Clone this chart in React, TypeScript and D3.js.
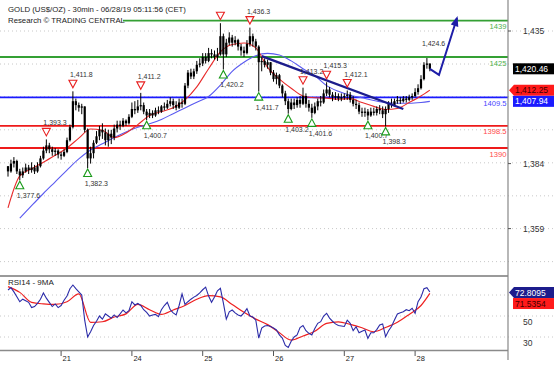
import React from "react";
import * as d3 from "d3";

const W = 554;
const H = 365;

// ---------- DATA ----------
const titleText = "GOLD (US$/OZ) - 30min - 06/28/19 05:11:56 (CET)";
const subTitle = "Research © TRADING CENTRAL";

const firstOpen = 1383;
const closes = [
  1381, 1384, 1385, 1381, 1379.5, 1381, 1382.5, 1381.5, 1382.5, 1381, 1383, 1386, 1389, 1391, 1389.5, 1388.5, 1389, 1387.5, 1387, 1388.5,
  1393, 1398, 1408, 1406.5, 1405.5, 1406, 1397, 1386, 1388, 1392, 1394.5, 1397, 1396, 1393, 1395.5, 1394, 1397.5, 1399, 1398.5, 1400.5,
  1399.5, 1402, 1405, 1404.5, 1406, 1406.5, 1404, 1402.5, 1403.5, 1402.5, 1404.5, 1404, 1406, 1405.5, 1407, 1408, 1406.5, 1405.5, 1407.5, 1407,
  1414, 1419, 1417.5, 1419.5, 1422, 1422.5, 1425, 1423.5, 1426.5, 1426, 1425, 1426, 1433, 1426, 1430.5, 1432.5, 1430.5, 1431.5, 1429, 1427.5,
  1426.5, 1430, 1433, 1431, 1429, 1423, 1423.5, 1422, 1423, 1419, 1416.5, 1418, 1414, 1411, 1408, 1405, 1407.5, 1406.5, 1408.5, 1407,
  1410, 1407, 1405.5, 1403.5, 1406, 1408, 1407.5, 1411, 1412.5, 1410.5, 1409.5, 1410, 1409, 1409.5, 1410, 1410.5, 1408.5, 1407, 1406.5, 1404,
  1403.5, 1404, 1402.5, 1404, 1403.5, 1405, 1404.5, 1403, 1405, 1407, 1406.5, 1408, 1408.5, 1408, 1409, 1408.5, 1409.5, 1410, 1411.5, 1413,
  1416.5, 1422, 1422.5, 1420.46,
];
const highs = [
  1383, 1385.5, 1386.5, 1385.5, 1382, 1382.5, 1384, 1383.5, 1384.5, 1383.5, 1384.5, 1387, 1390.5, 1393.3, 1392, 1390.5, 1390, 1389.5, 1388.5, 1389.5,
  1394, 1399, 1411.8, 1409, 1407.5, 1407, 1406, 1397.5, 1390.5, 1393, 1396.5, 1398.5, 1399.5, 1397.5, 1397, 1397, 1399, 1400.5, 1400.5, 1401.5,
  1401, 1403, 1407.5, 1408, 1408.5, 1411.2, 1407.5, 1405, 1405, 1404.5, 1405.5, 1406, 1406.5, 1407.5, 1408.5, 1409.5, 1409, 1408, 1409, 1409,
  1415, 1420, 1420.5, 1420.5, 1423.5, 1424.5, 1426.5, 1426.5, 1428.5, 1428, 1427.5, 1428.5, 1438, 1434, 1432, 1434.5, 1433.5, 1433, 1432, 1430,
  1429, 1431.5, 1436.3, 1434, 1432, 1429.5, 1425, 1424.5, 1424, 1423, 1420, 1419, 1418.5, 1414.5, 1412, 1409, 1409, 1409, 1409.5, 1410,
  1413.2, 1411, 1408.5, 1407, 1407.5, 1409, 1410, 1412.5, 1415.3, 1413.5, 1411.5, 1411.5, 1411, 1411, 1411, 1412.1, 1411.5, 1410, 1408.5, 1407.5,
  1405.5, 1405.5, 1405, 1405.5, 1405.5, 1406, 1406.5, 1406, 1406, 1408, 1409, 1409, 1410, 1409.5, 1410, 1410, 1410.5, 1411, 1413, 1414.5,
  1418, 1423, 1424.6, 1422.5,
];
const lows = [
  1379, 1380.5, 1382.5, 1380, 1377.6, 1378.5, 1380.5, 1380, 1380.5, 1380, 1380.5, 1382.5, 1385.5, 1388, 1388, 1387, 1387, 1386, 1385.5, 1386.5,
  1388, 1392.5, 1397.5, 1404.5, 1404, 1403, 1396, 1382.3, 1384, 1386, 1391.5, 1393, 1393.5, 1391, 1390.5, 1391.5, 1393, 1396, 1397, 1398,
  1398.5, 1399, 1401.5, 1403, 1403.5, 1404.5, 1403, 1400.7, 1401.5, 1401.5, 1402, 1403, 1403.5, 1404.5, 1405, 1406, 1405, 1404.5, 1405, 1405.5,
  1406.5, 1413, 1416.5, 1416.5, 1418.5, 1421, 1421.5, 1422.5, 1423, 1424.5, 1424, 1423.5, 1425.5, 1420.2, 1425, 1429.5, 1429, 1429.5, 1427.5, 1425.5,
  1425, 1426, 1429, 1429, 1427.5, 1411.7, 1419.5, 1421, 1420.5, 1418, 1415.5, 1414.5, 1413, 1409.5, 1406.5, 1403.2, 1404.5, 1405, 1405.5, 1405.5,
  1406.5, 1405.5, 1404, 1401.6, 1403, 1404.5, 1406, 1407, 1410, 1409.5, 1408, 1408.5, 1408, 1408, 1408.5, 1408.5, 1407.5, 1406, 1405, 1403,
  1402, 1402, 1400.7, 1402, 1402.5, 1402.5, 1403, 1401.5, 1398.3, 1403.5, 1405.5, 1406, 1407, 1407, 1407.5, 1407.5, 1408, 1408.5, 1409.5, 1410.5,
  1412.5, 1416, 1420.5, 1419.5,
];

const rsi = [
  74.8, 77, 73, 68.4, 63.6, 66, 64.5, 63, 58, 59, 62, 66, 72, 67, 63, 59, 61.5, 58, 60, 65,
  69, 76, 79.5, 76, 73, 70, 46, 30, 35, 41, 45, 50, 47, 52, 50, 48, 51, 48.5, 52, 55.7,
  53, 55, 63.6, 60.5, 62, 60, 56, 53.5, 50, 51, 51.5, 49.4, 56, 60, 63, 56, 53, 51, 60, 71,
  61, 63.6, 66, 68, 69.5, 72, 75, 77.5, 69, 63, 68, 74, 76.4, 62.4, 47, 54, 55.7, 53, 51, 50,
  53, 57, 50, 49, 46, 29, 38.5, 40.5, 41, 40, 38.5, 36.7, 32, 29, 22, 20, 26, 30, 32, 39,
  41, 36, 33.5, 31.9, 38, 43, 44.6, 50, 52.6, 48, 45, 42.5, 41, 40.5, 40, 46, 43, 36, 39.8, 34,
  35.5, 36.7, 28.7, 34, 34, 37, 41.4, 42.5, 30.3, 36, 40, 46.2, 52, 53, 54, 56, 55, 57.3, 52.6, 63.6,
  68, 76, 77, 72.81,
];

const maIdx = [0, 4, 8, 12, 16, 20, 24, 28, 32, 36, 40, 44, 48, 52, 56, 60, 64, 68, 72, 76, 80, 84, 88, 92, 96, 100, 104, 108, 112, 116, 120, 124, 128, 132, 136, 140, 143];
const maRed = [
  1367, 1379.3, 1382, 1384.5, 1387.2, 1390, 1393.8, 1397.3, 1396.8, 1394, 1395.8, 1399, 1402.5, 1404, 1405.5, 1408.5, 1413.5, 1420.5, 1427, 1429.8,
  1430.4, 1428.5, 1421, 1416.5, 1413, 1410, 1409.3, 1409.2, 1408.8, 1409, 1407.5, 1406, 1404.8, 1405.2, 1407.5, 1410, 1412.25,
];
const maBlue = [
  null, 1363, 1367.8, 1372.5, 1377, 1381.5, 1385.8, 1389.2, 1391.6, 1394, 1396.2, 1398, 1399.3, 1401, 1403.2, 1405.4, 1407.6, 1409.8, 1414.2, 1419.5,
  1423, 1425.5, 1426.4, 1425.8, 1423.5, 1420.5, 1417.8, 1414, 1411.8, 1410.3, 1409.3, 1408.3, 1407.5, 1407.2, 1407.2, 1407.5, 1407.94,
];
const rsiMa = [
  78, 72.5, 63, 61.5, 61, 63.5, 71, 44, 44.5, 49, 52, 61, 56, 51.5, 55.7, 60, 66, 69.5, 68.2, 61,
  53.5, 47, 41.8, 34, 27, 31, 35.5, 43, 44.5, 42, 38.8, 35, 39, 44, 51.5, 60, 71.54,
];

const levelValues = [1439, 1425, 1409.5, 1398.5, 1390];
const levelLabels = ["1439", "1425", "1409.5", "1398.5", "1390"];
const levelKinds = ["res", "res", "pivot", "sup", "sup"];

const peakIdx = [13, 22, 45, 72, 82, 100, 108, 115];
const peakLabels = ["1,393.3", "1,411.8", "1,411.2", "", "1,436.3", "1,413.2", "1,415.3", "1,412.1"];
const troughIdx = [4, 27, 47, 73, 85, 95, 103, 122, 128];
const troughLabels = ["1,377.6", "1,382.3", "1,400.7", "1,420.2", "1,411.7", "1,403.2", "1,401.6", "1,400.7", "1,398.3"];
const lastHighLabel = "1,424.6";

const trendIdx = [86, 134];
const trendVals = [1425.3, 1405];
const fcIdx = [143, 146.1, 152.2];
const fcVals = [1420.46, 1418.1, 1440];

const priceTicks = [1435, 1384, 1359];
const priceTickLabels = ["1,435", "1,384", "1,359"];
const priceGrid = [1435, 1422.3, 1409.7, 1397, 1384.3, 1371.6, 1359, 1346.3];
const rsiTicks = [50, 30];
const rsiGrid = [70, 50, 30];
const dayIdx = [18, 42, 66, 90, 114, 138];
const dayLabels = ["21", "24", "25", "26", "27", "28"];

const lastClose = 1420.46;
const lastRed = 1412.25;
const lastBlue = 1407.94;
const lastRsi = 72.8095;
const lastRsiMa = 71.5354;

// ---------- STYLE ----------
const FONT = "'Liberation Sans', Arial, sans-serif";
const GREEN = "#34a034";
const BLUE = "#1a1aff";
const RED = "#ee1a1a";
const NAVY = "#1c1c8c";
const AXIS_X = 508;

export default function App() {
  const x = d3.scaleLinear().domain([0, 143]).range([8, 8 + 143 * 2.95]);
  const y = d3.scaleLinear().domain([1359, 1435]).range([228.6, 31]);
  const yr = d3.scaleLinear().domain([30, 50]).range([337, 316]);

  const kindColor = (k: string) => (k === "res" ? GREEN : k === "pivot" ? BLUE : RED);
  const kindText = (k: string) => (k === "res" ? "#4cb04c" : k === "pivot" ? "#4646ff" : "#ff4a4a");

  const lineP = d3
    .line<[number, number | null]>()
    .defined((d) => d[1] != null)
    .x((d) => x(d[0]))
    .y((d) => y(d[1] as number))
    .curve(d3.curveMonotoneX);
  const lineR = d3
    .line<[number, number]>()
    .x((d) => x(d[0]))
    .y((d) => yr(d[1]))
    .curve(d3.curveMonotoneX);
  const lineRsi = d3
    .line<number>()
    .x((_, i) => x(i))
    .y((d) => yr(d));

  const redPath = lineP(maIdx.map((i, k) => [i, maRed[k]]));
  const bluePath = lineP(maIdx.map((i, k) => [i, maBlue[k]]));
  const rsiMaPath = lineR(maIdx.map((i, k) => [i, rsiMa[k]]));
  const rsiPath = lineRsi(rsi);

  // forecast arrow
  const fcPts = fcIdx.map((i, k) => [x(i), y(fcVals[k])]);
  const fcPath = d3.line()(fcPts as [number, number][]);
  const [ax, ay] = fcPts[fcPts.length - 1];
  const [bx, by] = fcPts[fcPts.length - 2];
  const ang = Math.atan2(ay - by, ax - bx);
  const ah = 9;
  const arrowHead = [
    [ax + 2 * Math.cos(ang), ay + 2 * Math.sin(ang)],
    [ax - ah * Math.cos(ang - 0.45), ay - ah * Math.sin(ang - 0.45)],
    [ax - ah * Math.cos(ang + 0.45), ay - ah * Math.sin(ang + 0.45)],
  ]
    .map((p) => p.join(","))
    .join(" ");

  const tri = (cx: number, cy: number, down: boolean) => {
    const s = 4;
    return down
      ? `${cx - s},${cy - s + 0.5} ${cx + s},${cy - s + 0.5} ${cx},${cy + s}`
      : `${cx - s},${cy + s - 0.5} ${cx + s},${cy + s - 0.5} ${cx},${cy - s}`;
  };

  const valueBox = (v: number, text: string, bg: string, fg: string, arrow: boolean, yy: number) => (
    <g key={text}>
      {arrow ? (
        <polygon points={`${AXIS_X + 1},${yy} ${AXIS_X + 6},${yy - 5.5} ${W},${yy - 5.5} ${W},${yy + 5.5} ${AXIS_X + 6},${yy + 5.5}`} fill={bg} />
      ) : (
        <rect x={AXIS_X + 5} y={yy - 5.5} width={W - AXIS_X - 5} height={11} fill={bg} />
      )}
      <text x={AXIS_X + 7} y={yy + 3} fontSize={8.5} fill={fg} fontFamily={FONT}>
        {text}
      </text>
    </g>
  );

  return (
    <svg width={W} height={H} style={{ position: "absolute", left: 0, top: 0, background: "#fff" }}>
      <rect x={0} y={0} width={W} height={H} fill="#fff" />
      {/* grid */}
      {priceGrid.map((g) => (
        <line key={"pg" + g} x1={0} x2={W} y1={y(g)} y2={y(g)} stroke="#c8c8c8" strokeDasharray="1,3" />
      ))}
      {rsiGrid.map((g) => (
        <line key={"rg" + g} x1={0} x2={W} y1={yr(g)} y2={yr(g)} stroke="#c8c8c8" strokeDasharray="1,3" />
      ))}

      {/* title */}
      <text x={8} y={11.5} fontSize={7.8} fill="#222" fontFamily={FONT}>
        {titleText}
      </text>
      <text x={8} y={22.5} fontSize={7.8} fill="#222" fontFamily={FONT}>
        {subTitle}
      </text>

      {/* levels */}
      {levelValues.map((v, k) => (
        <g key={"lv" + k}>
          <line x1={k === 0 ? 123 : 0} x2={AXIS_X} y1={y(v)} y2={y(v)} stroke={kindColor(levelKinds[k])} strokeWidth={1.8} />
          <text x={AXIS_X - 1.5} y={y(v) + 8.5} fontSize={7.6} textAnchor="end" fill={kindText(levelKinds[k])} fontFamily={FONT}>
            {levelLabels[k]}
          </text>
        </g>
      ))}

      {/* moving averages */}
      <path d={bluePath || ""} fill="none" stroke="#5a5af0" strokeWidth={1.1} />
      <path d={redPath || ""} fill="none" stroke="#e82a2a" strokeWidth={1.1} />

      {/* candles */}
      {closes.map((c, i) => {
        const o = i === 0 ? firstOpen : closes[i - 1];
        const cx = x(i);
        const yo = y(o);
        const yc = y(c);
        return (
          <g key={"c" + i}>
            <line x1={cx} x2={cx} y1={y(highs[i])} y2={y(lows[i])} stroke="#000" strokeWidth={1} />
            <rect x={cx - 1.1} width={2.2} y={Math.min(yo, yc)} height={Math.max(1, Math.abs(yo - yc))} fill="#000" />
          </g>
        );
      })}

      {/* trend line */}
      <line x1={x(trendIdx[0])} y1={y(trendVals[0])} x2={x(trendIdx[1])} y2={y(trendVals[1])} stroke={NAVY} strokeWidth={2.4} />

      {/* forecast */}
      <path d={fcPath || ""} fill="none" stroke="#1e1ea8" strokeWidth={2} />
      <polygon points={arrowHead} fill="#1e1ea8" />

      {/* markers */}
      {peakIdx.map((i, k) => {
        const cx = x(i);
        const cy = y(highs[i]) - 7.5;
        return (
          <g key={"pk" + k}>
            <polygon points={tri(cx, cy, true)} fill="#fff" stroke="#e82020" strokeWidth={1.1} />
            {peakLabels[k] && (
              <text x={cx - 3} y={cy - 6.5} fontSize={7} fill="#333" fontFamily={FONT}>
                {peakLabels[k]}
              </text>
            )}
          </g>
        );
      })}
      {troughIdx.map((i, k) => {
        const cx = x(i);
        const cy = y(lows[i]) + 5;
        return (
          <g key={"tr" + k}>
            <polygon points={tri(cx, cy, false)} fill="#fff" stroke="#1a9a1a" strokeWidth={1.1} />
            <text x={cx - 3} y={cy + 13} fontSize={7} fill="#333" fontFamily={FONT}>
              {troughLabels[k]}
            </text>
          </g>
        );
      })}
      <text x={x(142) - 5} y={y(highs[142]) - 12.5} fontSize={7} fill="#333" fontFamily={FONT}>
        {lastHighLabel}
      </text>

      {/* RSI panel */}
      <rect x={0} y={275} width={AXIS_X} height={2} fill="#9a9a9a" />
      <line x1={0} x2={AXIS_X} y1={350.5} y2={350.5} stroke="#8a8a8a" strokeWidth={1.5} />
      <text x={8} y={285} fontSize={8} fill="#222" fontFamily={FONT}>
        RSI14 - 9MA
      </text>
      <path d={rsiMaPath || ""} fill="none" stroke="#ee2020" strokeWidth={1.2} />
      <path d={rsiPath || ""} fill="none" stroke="#2b2ba8" strokeWidth={1.1} />

      {/* day axis */}
      {dayIdx.map((i, k) => (
        <g key={"d" + k}>
          <line x1={x(i)} x2={x(i)} y1={351} y2={356} stroke="#555" />
          <text x={x(i) + 1.5} y={361} fontSize={7.5} fill="#222" fontFamily={FONT}>
            {dayLabels[k]}
          </text>
        </g>
      ))}

      {/* right axis */}
      <line x1={AXIS_X} x2={AXIS_X} y1={0} y2={360} stroke="#888" strokeWidth={1.2} />
      {priceTicks.map((t, k) => (
        <g key={"pt" + k}>
          <line x1={AXIS_X} x2={AXIS_X + 3} y1={y(t)} y2={y(t)} stroke="#555" />
          <text x={523} y={y(t) + 3} fontSize={8.5} fill="#333" fontFamily={FONT}>
            {priceTickLabels[k]}
          </text>
        </g>
      ))}
      {rsiTicks.map((t) => (
        <text key={"rt" + t} x={523} y={yr(t) + 9} fontSize={8.5} fill="#333" fontFamily={FONT}>
          {t}
        </text>
      ))}

      {valueBox(lastClose, d3.format(",.2f")(lastClose), "#000", "#fff", false, y(lastClose))}
      {valueBox(lastRed, d3.format(",.2f")(lastRed), "#ff1a1a", "#400", true, y(lastRed))}
      {valueBox(lastBlue, d3.format(",.2f")(lastBlue), "#1a1aff", "#fff", false, y(lastBlue))}
      {valueBox(lastRsi, d3.format(".4f")(lastRsi), "#1c1c8c", "#fff", true, yr(lastRsi) + 0.5)}
      {valueBox(lastRsiMa, d3.format(".4f")(lastRsiMa), "#ff1a1a", "#400", false, yr(lastRsi) + 11.5)}
    </svg>
  );
}
